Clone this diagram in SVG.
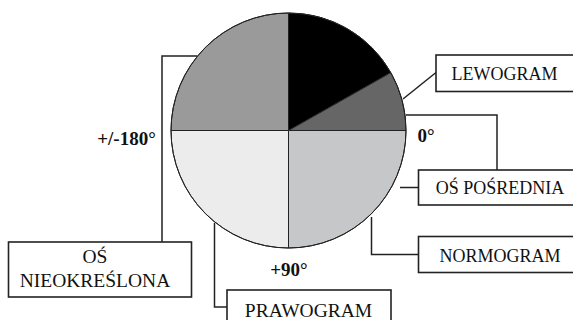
<svg xmlns="http://www.w3.org/2000/svg" width="573" height="320" viewBox="0 0 573 320">
<style>
.box{fill:#fff;stroke:#222;stroke-width:1.6}
.con{fill:none;stroke:#222;stroke-width:1.5}
.sec{stroke:#222;stroke-width:1}
.t{font-family:"Liberation Serif","Times New Roman",serif;fill:#111;text-anchor:middle}
.b{font-family:"Liberation Serif","Times New Roman",serif;font-weight:bold;fill:#111;text-anchor:middle;font-size:19px}
</style>
<rect width="573" height="320" fill="#fff"/>
<g id="connectors">
<polyline class="con" points="197,56 162,56 162,242"/>
<polyline class="con" points="214.5,223 214.5,307 227,307"/>
<polyline class="con" points="403,99 436,72.5"/>
<polyline class="con" points="406,115 497,115 497,170"/>
<polyline class="con" points="400,187.5 418.5,187.5"/>
<polyline class="con" points="371.5,217 371.5,254.5 418.5,254.5"/>
</g>
<g id="pie">
<path class="sec" fill="#9a9a9a" d="M288.5,130.5 L171,130.5 A117.5,117.5 0 0 1 288.5,13 Z"/>
<path class="sec" fill="#000" d="M288.5,130.5 L288.5,13 A117.5,117.5 0 0 1 390.8,72.6 Z"/>
<path class="sec" fill="#666" d="M288.5,130.5 L390.8,72.6 A117.5,117.5 0 0 1 406,130.5 Z"/>
<path class="sec" fill="#c6c7c9" d="M288.5,130.5 L406,130.5 A117.5,117.5 0 0 1 288.5,248 Z"/>
<path class="sec" fill="#ececec" d="M288.5,130.5 L288.5,248 A117.5,117.5 0 0 1 171,130.5 Z"/>
<circle cx="288.5" cy="130.5" r="117.5" fill="none" stroke="#222" stroke-width="1"/>
</g>
<g id="lewogram">
<rect class="box" x="436" y="55" width="145" height="36.5"/>
<text class="t" x="504.5" y="79.5" font-size="18">LEWOGRAM</text>
</g>
<g id="os-posrednia">
<rect class="box" x="418.5" y="170" width="165" height="35"/>
<text class="t" x="500" y="193.5" font-size="18">OŚ POŚREDNIA</text>
</g>
<g id="normogram">
<rect class="box" x="418.5" y="236.5" width="165" height="36"/>
<text class="t" x="500" y="261.5" font-size="18">NORMOGRAM</text>
</g>
<g id="prawogram">
<rect class="box" x="227" y="290" width="164" height="40"/>
<text class="t" x="308.5" y="316.5" font-size="19.5">PRAWOGRAM</text>
</g>
<g id="nieokreslona">
<rect class="box" x="8.5" y="242" width="183" height="55"/>
<text class="t" x="95" y="263" font-size="19.5">OŚ</text>
<text class="t" x="95" y="287" font-size="19.5">NIEOKREŚLONA</text>
</g>
<g id="labels">
<text class="b" x="126.5" y="145">+/-180°</text>
<text class="b" x="426" y="141.5">0°</text>
<text class="b" x="289" y="275.5">+90°</text>
</g>
</svg>
